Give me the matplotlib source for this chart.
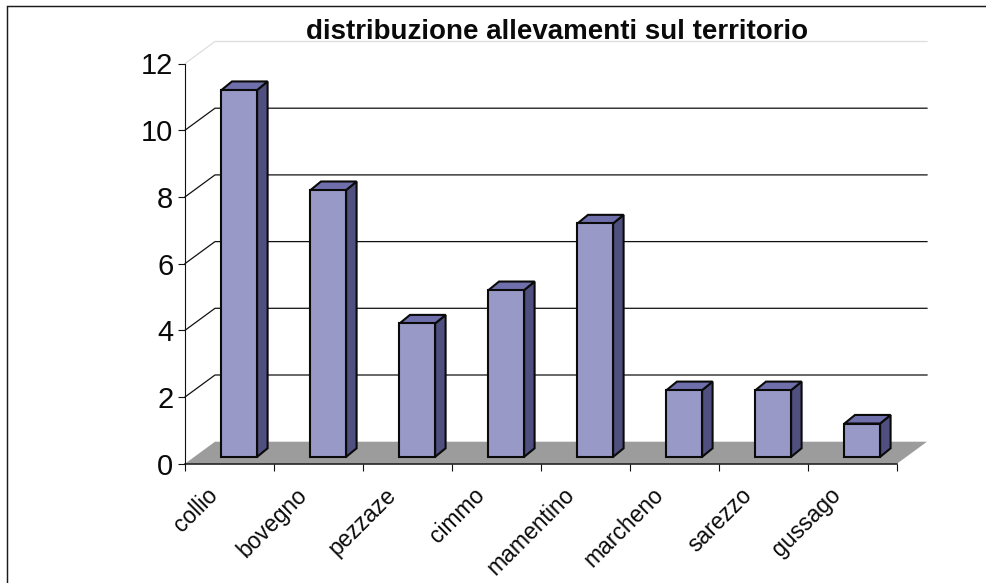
import matplotlib
matplotlib.use("Agg")
import matplotlib.pyplot as plt
from matplotlib.patches import Polygon, Rectangle
from matplotlib.transforms import ScaledTranslation

categories = ["collio", "bovegno", "pezzaze", "cimmo", "mamentino", "marcheno", "sarezzo", "gussago"]
values = [11, 8, 4, 5, 7, 2, 2, 1]
y_ticks = [0, 2, 4, 6, 8, 10, 12]
title = "distribuzione allevamenti sul territorio"

W, H = 987, 583
plt.rcParams["font.family"] = ["Liberation Sans", "DejaVu Sans"]
fig = plt.figure(figsize=(W / 100, H / 100), dpi=100, facecolor="white")

# frame of the chart area (open to the right and at the bottom of the picture)
fig.add_artist(plt.Line2D([6.7 / W, 6.7 / W, 1], [0, 1 - 5.6 / H, 1 - 5.6 / H], transform=fig.transFigure,
                          color="#1A1A1A", lw=1.05, solid_joinstyle="miter"))

x0, x1, ytop, ybot = 185, 897, 63.5, 463.7
ax = fig.add_axes([x0 / W, 1 - ybot / H, (x1 - x0) / W, (ybot - ytop) / H])
ax.set_xlim(0, len(categories))
ax.set_ylim(0, 12)
ax.patch.set_visible(False)
for s in ["top", "right"]:
    ax.spines[s].set_visible(False)
for s in ["left", "bottom"]:
    ax.spines[s].set_color("#111111")
    ax.spines[s].set_zorder(6)
ax.spines["left"].set_linewidth(0.8)
ax.spines["bottom"].set_linewidth(1.1)

# oblique projection of depth, in data units
DX = 30 / ((x1 - x0) / len(categories))
DY = 22 / ((ybot - ytop) / 12)

n = len(categories)
ax.add_patch(Polygon([(0, 0), (n, 0), (n + DX, DY), (DX, DY)], fc="#9C9C9C", ec="none", zorder=1, clip_on=False))

for v in y_ticks[1:]:
    col = "#DDDDDD" if v == 12 else "#111111"
    ax.plot([0, DX, n + DX], [v, v + DY, v + DY], color=col, lw=0.9, zorder=2, clip_on=False)

BW = 0.40
OFF = 0.41
F = 0.31    # front of bar, fraction of depth
BXF = 0.35  # bar depth, horizontal fraction
BYF = 0.39  # bar depth, vertical fraction
for i, v in enumerate(values):
    l = i + OFF
    r = l + BW
    bx, by = BXF * DX, BYF * DY
    y0 = F * DY
    y1 = v + F * DY
    kw = dict(ec="#0A0A0A", lw=1.5, joinstyle="miter", clip_on=False, zorder=4)
    ax.add_patch(Polygon([(r, y0), (r + bx, y0 + by), (r + bx, y1 + by), (r, y1)], fc="#4F4F80", **kw))
    ax.add_patch(Polygon([(l, y1), (r, y1), (r + bx, y1 + by), (l + bx, y1 + by)], fc="#6F6FAB", **kw))
    ax.add_patch(Rectangle((l, y0), BW, y1 - y0, fc="#9999C7", **kw))

ax.set_yticks(y_ticks)
ax.set_xticks(range(n + 1))
ax.set_xticklabels([])
ax.tick_params(axis="both", which="major", length=4.8, width=0.8, color="#111111")
ax.tick_params(axis="y", labelsize=21, pad=3.5, labelcolor="#0A0A0A")
ax.set_xticks([i + 0.5 for i in range(n)], minor=True)
ax.set_xticklabels(categories, minor=True, rotation=45, ha="right", va="top",
                   rotation_mode="anchor", fontsize=16.5, color="#0A0A0A")
ax.tick_params(axis="x", which="minor", length=0, pad=14)
shift = ScaledTranslation(-23 / 100, 0, fig.dpi_scale_trans)
for lab in ax.get_xticklabels(minor=True):
    lab.set_transform(lab.get_transform() + shift)

fig.text(557 / W, 1 - 39 / H, title, ha="center", va="baseline", fontsize=20, fontweight="bold", color="#0A0A0A")

fig.savefig("out.png", dpi=100, facecolor="white")
